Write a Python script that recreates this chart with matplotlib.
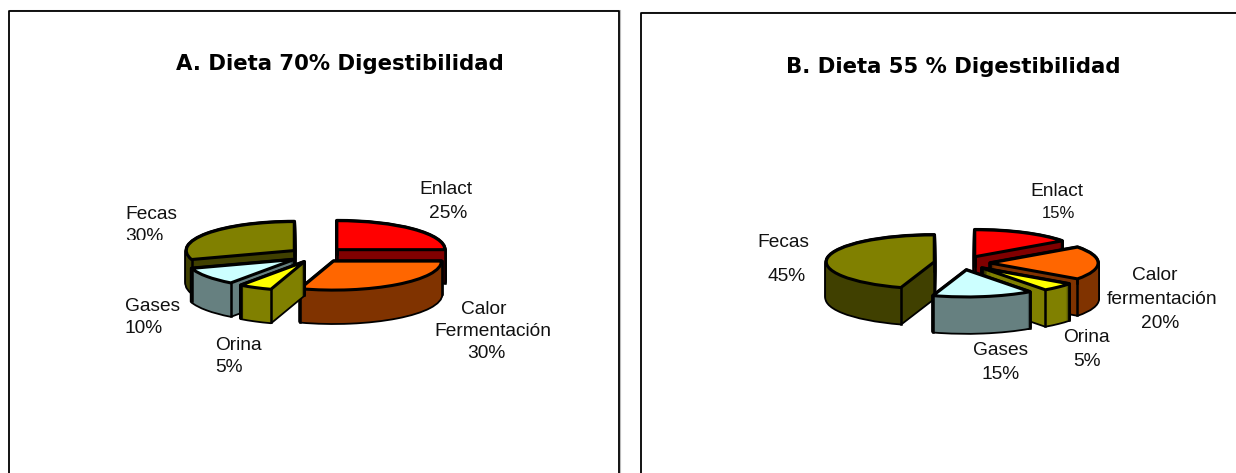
import numpy as np
import matplotlib
matplotlib.use('Agg')
import matplotlib.pyplot as plt
from matplotlib.patches import Rectangle

W, H = 1236, 473

# Data
titles = ['A. Dieta 70% Digestibilidad', 'B. Dieta 55 % Digestibilidad']
categories = ['Enlact', 'Calor', 'Orina', 'Gases', 'Fecas']
values_a = [25, 30, 5, 10, 30]
values_b = [15, 20, 5, 15, 45]

# label lines as they appear on the picture
label_text = ['Enlact', '25%', 'Calor', 'Fermentación', '30%', 'Orina', '5%',
              'Gases', '10%', 'Fecas', '30%',
              'Enlact', '15%', 'Calor', 'fermentación', '20%', 'Orina', '5%',
              'Gases', '15%', 'Fecas', '45%']

# Layout and styles
top_colors = ['#FF0000', '#FF6600', '#FFFF00', '#CCFFFF', '#808000']
wall_colors = ['#800000', '#803300', '#808000', '#668080', '#404000']

# paint order, far slices first
order_a = [0, 4, 3, 1, 2]
order_b = [0, 1, 4, 2, 3]

label_x = [446, 448, 484, 493, 486, 215, 215, 125, 125, 125, 125,
           1057, 1058, 1155, 1162, 1160, 1086, 1087, 1001, 1001, 783, 787]
label_y = [189, 213, 309, 331, 353, 345, 367, 306, 328, 214, 236,
           191, 213, 275, 299, 323, 337, 361, 350, 374, 242, 276]
label_ha = ['center'] * 5 + ['left'] * 6 + ['center'] * 11
label_size = [13.8] * 22
label_size[12] = 12


def draw_pie(fig, values, order, cx, cy, rx, ry, depth, expl):
    # radius 1 in data units is rx pixels wide and ry pixels high
    ax = fig.add_axes([0, 0, 1, 1], facecolor='none')
    explode = [expl] * len(values)
    for d in np.arange(depth, -0.5, -1.0):
        center = (0, -d / ry)
        for lw, kind in [(2.6, 0), (0, 1)]:
            wedges, _ = ax.pie(values, colors=wall_colors, explode=explode, center=center,
                               startangle=90, counterclock=False,
                               wedgeprops={'linewidth': lw, 'edgecolor': 'black',
                                           'joinstyle': 'round'})
            for k, w in enumerate(wedges):
                w.set_zorder(10 * order.index(k) + 1 + kind)
    # top faces
    wedges, _ = ax.pie(values, colors=top_colors, explode=explode, startangle=90,
                       counterclock=False, wedgeprops={'linewidth': 2.2, 'edgecolor': 'black',
                                                       'joinstyle': 'round'})
    for k, w in enumerate(wedges):
        z = 10 * order.index(k)
        w.set_zorder(z + 5)
        # vertical edges at the rim corners
        x0, y0 = w.center
        for t in (w.theta1, w.theta2):
            xr = x0 + np.cos(np.radians(t))
            yr = y0 + np.sin(np.radians(t))
            ax.plot([xr, xr], [yr, yr - depth / ry], color='black', lw=1.8, zorder=z + 3)
        # the inner corner only shows when the slice does not face the viewer
        front = (w.theta1 % 360) <= 270 <= (w.theta1 % 360) + (w.theta2 - w.theta1)
        if not front:
            ax.plot([x0, x0], [y0, y0 - depth / ry], color='black', lw=1.8, zorder=z + 3)
    ax.set_aspect('auto')
    ax.set_xlim(-cx / rx, (W - cx) / rx)
    ax.set_ylim((cy - H) / ry, cy / ry)
    ax.axis('off')
    return ax


fig = plt.figure(figsize=(W / 100, H / 100), dpi=100, facecolor='white')

# background axes in pixel coordinates for frames and text
bg = fig.add_axes([0, 0, 1, 1])
bg.set_xlim(0, W)
bg.set_ylim(H, 0)
bg.axis('off')

for x0, x1, y0 in [(8.5, 618.5, 11), (640.5, 1240, 13.5)]:
    bg.plot([x0 + 1, x1 + 1, x1 + 1], [y0 - 1, y0 - 1, H + 5], color='#bbbbbb', lw=0.8)
    bg.plot([x0, x0, x1, x1], [H + 5, y0, y0, H + 5], color='black', lw=1.3)

bg.text(339.5, 64, titles[0], ha='center', va='center', fontsize=15.3, fontweight='bold',
        family='DejaVu Sans')
bg.text(953, 67, titles[1], ha='center', va='center', fontsize=15.3, fontweight='bold',
        family='DejaVu Sans')

for text, x, y, ha, size in zip(label_text, label_x, label_y, label_ha, label_size):
    bg.text(x, y, text, ha=ha, va='center', fontsize=size, family='Liberation Sans',
            color='#111111')

# the Fecas label in chart A is cut off by the plot area
bg.add_patch(Rectangle((118, 240), 55, 10, facecolor='white', edgecolor='none', zorder=5))

draw_pie(fig, values_a, order_a, 317, 255, 108, 29, 33, 0.26)
draw_pie(fig, values_b, order_b, 962, 263, 108, 27, 36, 0.26)

fig.savefig('out.png', dpi=100)
